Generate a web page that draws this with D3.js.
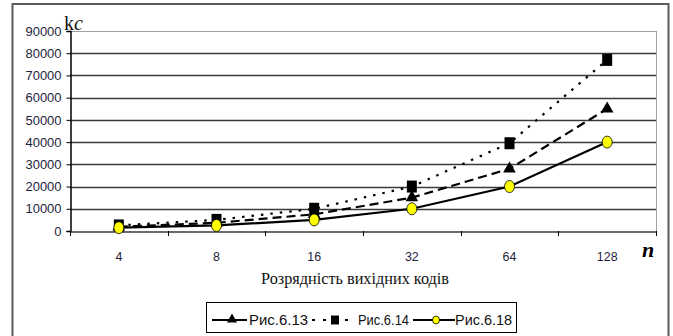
<!DOCTYPE html>
<html>
<head>
<meta charset="utf-8">
<script src="https://cdn.jsdelivr.net/npm/d3@7"></script>
<style>
  html, body { margin: 0; padding: 0; background: #fff; }
  svg { display: block; }
</style>
</head>
<body>
<svg id="chart" width="673" height="336"></svg>
<script>
// Code width n (bits) along the x axis
const categories = ["4", "8", "16", "32", "64", "128"];
// Y axis tick values
const yTicks = [0, 10000, 20000, 30000, 40000, 50000, 60000, 70000, 80000, 90000];
// Series values
const series613 = [1900, 3700, 7500, 15000, 28000, 55000];
const series614 = [2500, 5000, 10000, 20000, 39500, 77000];
const series618 = [1500, 2500, 5000, 10000, 20000, 40000];
const seriesNames = ["Рис.6.13", "Рис.6.14", "Рис.6.18"];

const svg = d3.select("#chart");
const plot = { left: 70, right: 656, top: 31, bottom: 231 };

// Outer frame
svg.append("rect")
  .attr("x", 12.5).attr("y", 4).attr("width", 656).attr("height", 340)
  .attr("fill", "#fff").attr("stroke", "#5a5a5a").attr("stroke-width", 2);

const x = d3.scaleBand().domain(categories).range([plot.left, plot.right]);
const y = d3.scaleLinear().domain([0, 90000]).range([plot.bottom, plot.top]);

// Horizontal gridlines
svg.append("g").selectAll("line").data(yTicks.filter(d => d > 0)).join("line")
  .attr("x1", plot.left).attr("x2", plot.right)
  .attr("y1", d => Math.round(y(d)) + 0.5).attr("y2", d => Math.round(y(d)) + 0.5)
  .attr("stroke", d => d === 90000 ? "#a0a0a0" : "#3a3a3a")
  .attr("stroke-width", d => d === 90000 ? 1 : 1.5);

// Right edge of plot area
svg.append("line")
  .attr("x1", plot.right + 0.5).attr("x2", plot.right + 0.5)
  .attr("y1", plot.top).attr("y2", plot.bottom)
  .attr("stroke", "#a0a0a0").attr("stroke-width", 1);

// Y axis
const yAxis = d3.axisLeft(y).tickValues(yTicks).tickSize(4).tickPadding(5).tickFormat(d3.format("d"));
const gy = svg.append("g").attr("transform", `translate(${plot.left + 0.5},0)`).call(yAxis);
gy.select(".domain").attr("stroke", "#000").attr("stroke-width", 1.5);
gy.selectAll(".tick line").attr("stroke", "#000");
gy.selectAll(".tick text")
  .attr("font-family", "Liberation Sans, Arial, sans-serif")
  .attr("font-size", 13).attr("fill", "#1e1e3c")
  .attr("textLength", d => d >= 10000 ? 36 : null)
  .attr("lengthAdjust", "spacingAndGlyphs");

// X axis
const xAxis = d3.axisBottom(x).tickSize(0).tickPadding(20);
const gx = svg.append("g").attr("transform", `translate(0,${plot.bottom + 0.5})`).call(xAxis);
gx.select(".domain").attr("stroke", "#3a3a3a").attr("stroke-width", 1.5);
gx.selectAll(".tick text")
  .attr("font-family", "Liberation Sans, Arial, sans-serif")
  .attr("font-size", 13.5).attr("fill", "#1e1e3c")
  .attr("transform", "scale(0.92,1)")
  .attr("x", function () { return 0; });
// Tick marks between categories
const bounds = categories.map(c => x(c)).concat([plot.right]);
svg.append("g").selectAll("line").data(bounds).join("line")
  .attr("x1", d => Math.round(d) + 0.5).attr("x2", d => Math.round(d) + 0.5)
  .attr("y1", plot.bottom).attr("y2", plot.bottom + 5)
  .attr("stroke", "#000").attr("stroke-width", 1);

const cx = c => x(c) + x.bandwidth() / 2;
const line = d3.line().x((d, i) => cx(categories[i])).y(d => y(d));

// Series lines
svg.append("path").datum(series614).attr("d", line)
  .attr("fill", "none").attr("stroke", "#000").attr("stroke-width", 2.2)
  .attr("stroke-dasharray", "2.5,7");
svg.append("path").datum(series613).attr("d", line)
  .attr("fill", "none").attr("stroke", "#000").attr("stroke-width", 2.2)
  .attr("stroke-dasharray", "9,5");
svg.append("path").datum(series618).attr("d", line)
  .attr("fill", "none").attr("stroke", "#000").attr("stroke-width", 2.2);

// Markers
const tri = d3.symbol().type(d3.symbolTriangle).size(70);
svg.append("g").selectAll("path").data(series613).join("path")
  .attr("d", tri)
  .attr("transform", (d, i) => `translate(${cx(categories[i])},${y(d)})`)
  .attr("fill", "#000");
svg.append("g").selectAll("rect").data(series614).join("rect")
  .attr("x", (d, i) => cx(categories[i]) - 5).attr("y", d => y(d) - 6)
  .attr("width", 10).attr("height", 12).attr("fill", "#000");
svg.append("g").selectAll("ellipse").data(series618).join("ellipse")
  .attr("cx", (d, i) => cx(categories[i])).attr("cy", d => y(d))
  .attr("rx", 5).attr("ry", 6)
  .attr("fill", "#ffff00").attr("stroke", "#000").attr("stroke-width", 0.8);

// Axis labels
const kc = svg.append("text").attr("x", 64).attr("y", 30)
  .attr("font-family", "Liberation Serif, Times New Roman, serif")
  .attr("font-size", 20).attr("fill", "#111");
kc.append("tspan").text("k");
kc.append("tspan").attr("font-style", "italic").text("c");

svg.append("text").attr("x", 648).attr("y", 257).attr("text-anchor", "middle")
  .attr("font-family", "Liberation Serif, Times New Roman, serif")
  .attr("font-size", 22).attr("font-weight", "bold").attr("font-style", "italic")
  .attr("fill", "#000").text("n");

svg.append("text").attr("x", 355).attr("y", 284).attr("text-anchor", "middle")
  .attr("font-family", "Liberation Serif, Times New Roman, serif")
  .attr("font-size", 16).attr("fill", "#111")
  .attr("textLength", 188).attr("lengthAdjust", "spacingAndGlyphs")
  .text("Розрядність вихідних кодів");

// Legend
const lg = svg.append("g");
lg.append("rect").attr("x", 206.5).attr("y", 302.5).attr("width", 310).attr("height", 30)
  .attr("fill", "#fff").attr("stroke", "#000").attr("stroke-width", 1);
const ly = 320;
const items = [
  { name: seriesNames[0], x0: 212, x1: 247, mx: 232, dash: null, mark: "tri", tx: 249, tw: 59 },
  { name: seriesNames[1], x0: 312, x1: 356, mx: 335, dash: "3,8", mark: "sq", tx: 358, tw: 51 },
  { name: seriesNames[2], x0: 413, x1: 455, mx: 436, dash: null, mark: "circ", tx: 455, tw: 57 }
];
items.forEach(it => {
  lg.append("line").attr("x1", it.x0).attr("x2", it.x1).attr("y1", ly).attr("y2", ly)
    .attr("stroke", "#000").attr("stroke-width", 2.2)
    .attr("stroke-dasharray", it.dash);
  if (it.mark === "tri") {
    lg.append("path").attr("d", d3.symbol().type(d3.symbolTriangle).size(45))
      .attr("transform", `translate(${it.mx},${ly - 0.5})`).attr("fill", "#000");
  } else if (it.mark === "sq") {
    lg.append("rect").attr("x", it.mx - 4).attr("y", ly - 4.5).attr("width", 8).attr("height", 9).attr("fill", "#000");
  } else {
    lg.append("ellipse").attr("cx", it.mx).attr("cy", ly).attr("rx", 3.5).attr("ry", 4)
      .attr("fill", "#ffff00").attr("stroke", "#000").attr("stroke-width", 0.8);
  }
  lg.append("text").attr("x", it.tx).attr("y", ly + 5)
    .attr("font-family", "Liberation Sans, Arial, sans-serif")
    .attr("font-size", 14).attr("fill", "#111")
    .attr("textLength", it.tw).attr("lengthAdjust", "spacingAndGlyphs")
    .text(it.name);
});
</script>
</body>
</html>
